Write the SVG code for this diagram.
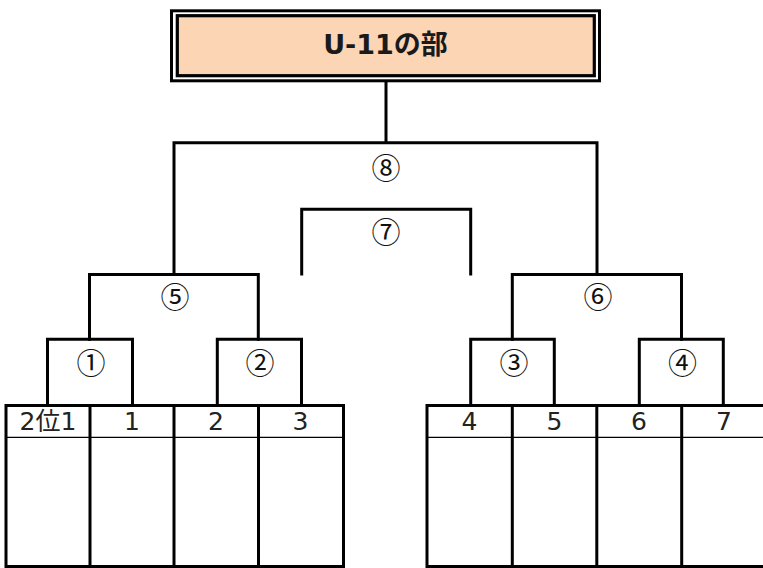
<svg xmlns="http://www.w3.org/2000/svg" width="763" height="568" viewBox="0 0 763 568">
<style>
.ln{fill:none;stroke:#000;stroke-width:3;stroke-linecap:square}
.thin{fill:none;stroke:#000;stroke-width:1.2}
.num{font-family:"DejaVu Sans","Noto Sans CJK JP",sans-serif;font-size:25px;fill:#222;text-anchor:middle}
.circ{font-family:"Noto Sans CJK JP",sans-serif;font-size:29px;fill:#111;text-anchor:middle;dominant-baseline:central}
.title{font-family:"DejaVu Sans","Noto Sans CJK JP",sans-serif;font-weight:bold;font-size:27px;fill:#1a1a1a;text-anchor:middle}
</style>
<rect width="763" height="568" fill="#fff"/>
<g id="title">
<rect x="171.5" y="10.8" width="428" height="70" fill="#fff" stroke="#000" stroke-width="3"/>
<rect x="177.3" y="15.7" width="417" height="60" fill="#FCD5B5" stroke="#000" stroke-width="3.2"/>
<text class="title" x="385.5" y="54">U-11の部</text>
</g>
<g id="connectors">
<path class="ln" d="M386 82V142.7M174 274.5V142.7H597V274.5"/>
<path class="ln" d="M301.7 274V209.3H470.7V274"/>
<path class="ln" d="M89.5 339.3V274.5H258.3V339.3"/>
<path class="ln" d="M47.5 405.5V339.3H132.5V405.5"/>
<path class="ln" d="M217.3 405.5V339.3H301.5V405.5"/>
<path class="ln" d="M512.3 339.3V274.5H681.5V339.3"/>
<path class="ln" d="M470.7 405.5V339.3H554.3V405.5"/>
<path class="ln" d="M639.3 405.5V339.3H723.3V405.5"/>
</g>
<g id="labels">
<text class="circ" x="386" y="166">⑧</text>
<text class="circ" x="386" y="230">⑦</text>
<text class="circ" x="175" y="295">⑤</text>
<text class="circ" x="598" y="295">⑥</text>
<text class="circ" x="91" y="361">①</text>
<text class="circ" x="260" y="361">②</text>
<text class="circ" x="514" y="361">③</text>
<text class="circ" x="682.5" y="361">④</text>
</g>
<g id="table-left">
<rect class="ln" x="6" y="405.5" width="337.5" height="161"/>
<path class="ln" d="M90 405.5V566.5M174 405.5V566.5M258.5 405.5V566.5"/>
<path class="thin" d="M6 437.3H343.5"/>
<text class="num" x="48" y="430">2位1</text>
<text class="num" x="132" y="430">1</text>
<text class="num" x="216" y="430">2</text>
<text class="num" x="300.5" y="430">3</text>
</g>
<g id="table-right">
<rect class="ln" x="427" y="405.5" width="340" height="161"/>
<path class="ln" d="M512.3 405.5V566.5M596.8 405.5V566.5M681.7 405.5V566.5"/>
<path class="thin" d="M427 437.3H763"/>
<text class="num" x="469.5" y="430">4</text>
<text class="num" x="554.5" y="430">5</text>
<text class="num" x="639" y="430">6</text>
<text class="num" x="724" y="430">7</text>
</g>
</svg>
